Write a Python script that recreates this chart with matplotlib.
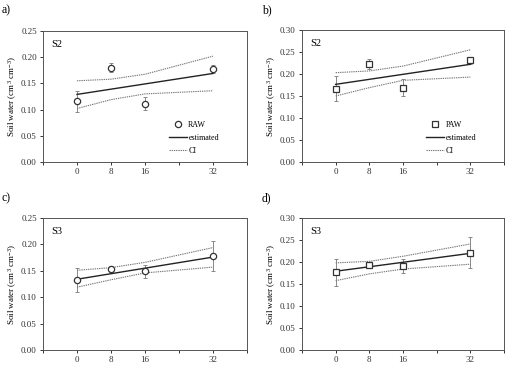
import matplotlib
matplotlib.use("Agg")
import matplotlib.pyplot as plt
from matplotlib.ticker import FixedLocator, FormatStrFormatter

plt.rcParams['font.family'] = ['Liberation Serif', 'DejaVu Serif']
plt.rcParams['mathtext.fontset'] = 'custom'
plt.rcParams['mathtext.rm'] = 'Liberation Serif'
plt.rcParams['mathtext.it'] = 'Liberation Serif:italic'
plt.rcParams['mathtext.default'] = 'regular'

days = [0, 8, 16, 32]
fit_x = [0, 32]
ci_x = [0, 8, 16, 32]

# a) RAW, S2
raw_s2 = [0.116, 0.180, 0.111, 0.177]
raw_s2_err = [0.020, 0.009, 0.0125, 0.008]
raw_s2_fit = [0.129, 0.169]
raw_s2_ci_hi = [0.155, 0.158, 0.1675, 0.202]
raw_s2_ci_lo = [0.102, 0.119, 0.130, 0.136]

# b) PAW, S2
paw_s2 = [0.167, 0.223, 0.169, 0.231]
paw_s2_err = [0.029, 0.011, 0.019, 0.008]
paw_s2_fit = [0.1765, 0.222]
paw_s2_ci_hi = [0.203, 0.207, 0.218, 0.255]
paw_s2_ci_lo = [0.150, 0.169, 0.1856, 0.193]

# c) RAW, S3
raw_s3 = [0.132, 0.153, 0.149, 0.1775]
raw_s3_err = [0.023, 0.006, 0.012, 0.028]
raw_s3_fit = [0.134, 0.176]
raw_s3_ci_hi = [0.151, 0.156, 0.166, 0.194]
raw_s3_ci_lo = [0.119, 0.133, 0.146, 0.157]

# d) PAW, S3
paw_s3 = [0.1765, 0.194, 0.1917, 0.221]
paw_s3_err = [0.031, 0.007, 0.016, 0.035]
paw_s3_fit = [0.179, 0.2197]
paw_s3_ci_hi = [0.198, 0.2015, 0.213, 0.241]
paw_s3_ci_lo = [0.1576, 0.173, 0.184, 0.195]

W, H = 525, 376
fig = plt.figure(figsize=(W / 100, H / 100), dpi=100)

def make_ax(l, r, t, b):
    return fig.add_axes([l / W, 1 - b / H, (r - l) / W, (b - t) / H])

def panel(ax, y, yerr, fit, ci_hi, ci_lo, marker, site, ymax, legend_name=None):
    ax.errorbar(days, y, yerr=yerr, fmt='none', ecolor='#888888', elinewidth=0.7,
                capsize=1.5, capthick=0.7, zorder=2)
    pts, = ax.plot(days, y, linestyle='none', marker=marker, markersize=4.5,
                   markerfacecolor='white', markeredgecolor='#333333',
                   markeredgewidth=0.9, zorder=4, label=legend_name)
    est, = ax.plot(fit_x, fit, color='#222222', linewidth=1.0, zorder=3, label='estimated')
    ci, = ax.plot(ci_x, ci_hi, color='#777777', linestyle=(0, (1.2, 0.8)), linewidth=0.8,
                  zorder=3, label='CI')
    ax.plot(ci_x, ci_lo, color='#777777', linestyle=(0, (1.2, 0.8)), linewidth=0.8, zorder=3)
    ax.set_xlim(-8, 40)
    ax.set_ylim(0, ymax)
    ax.xaxis.set_major_locator(FixedLocator(range(-8, 41, 8)))
    ax.set_xticklabels(['', '0', '8', '16', '', '32', ''])
    ax.set_yticks([round(v * 0.05, 2) for v in range(int(round(ymax / 0.05)) + 1)])
    ax.yaxis.set_major_formatter(FormatStrFormatter('%.2f'))
    ax.tick_params(direction='out', length=2.5, width=0.7, labelsize=6.5, pad=2,
                   colors='#333333')
    for s in ax.spines.values():
        s.set_linewidth(0.7)
        s.set_color('#555555')
    ax.set_ylabel('Soil water (cm$^{3}$ cm$^{-3}$)', fontsize=6.5)
    ax.yaxis.set_label_coords(-24 / 204, 0.5)
    ax.text(0.04, 0.93, site, transform=ax.transAxes, fontsize=7.5, va='top', ha='left')
    if legend_name:
        ax.legend(handles=[pts, est, ci], loc='lower right', frameon=False, fontsize=5.8,
                  handlelength=2.3, handletextpad=0.15, borderaxespad=0.3,
                  labelspacing=0.65, bbox_to_anchor=(0.89, 0.01))

ax_a = make_ax(43, 247, 31, 162)
ax_b = make_ax(302, 504, 30, 162)
ax_c = make_ax(43, 247, 218, 350)
ax_d = make_ax(302, 504, 218, 350)

panel(ax_a, raw_s2, raw_s2_err, raw_s2_fit, raw_s2_ci_hi, raw_s2_ci_lo, 'o', 'S2', 0.25, 'RAW')
panel(ax_b, paw_s2, paw_s2_err, paw_s2_fit, paw_s2_ci_hi, paw_s2_ci_lo, 's', 'S2', 0.30, 'PAW')
panel(ax_c, raw_s3, raw_s3_err, raw_s3_fit, raw_s3_ci_hi, raw_s3_ci_lo, 'o', 'S3', 0.25)
panel(ax_d, paw_s3, paw_s3_err, paw_s3_fit, paw_s3_ci_hi, paw_s3_ci_lo, 's', 'S3', 0.30)

for lbl, x, y in [('a)', 2, 10), ('b)', 262, 10), ('c)', 2, 198), ('d)', 262, 198)]:
    fig.text(x / W, 1 - y / H, lbl, fontsize=8.5, va='center', ha='left')

fig.savefig('out.png', dpi=100)
